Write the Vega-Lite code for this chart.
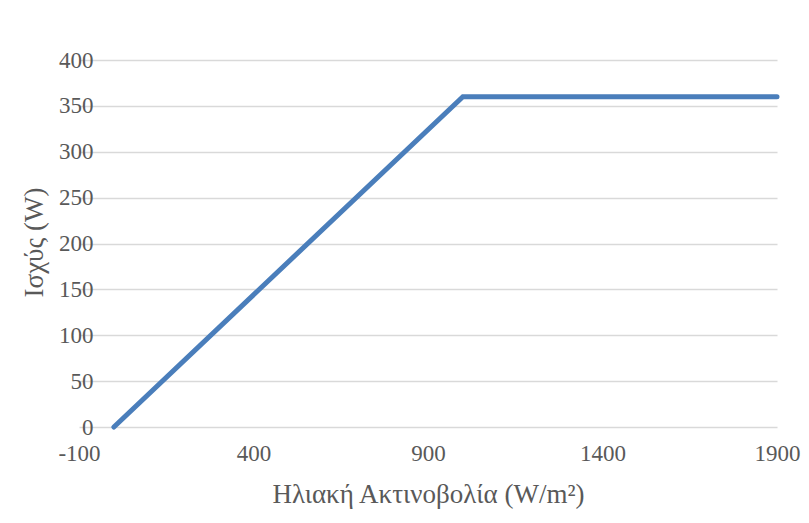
{
  "$schema": "https://vega.github.io/schema/vega-lite/v6.json",
  "autosize": "none",
  "width": 698,
  "height": 367,
  "padding": {"left": 79, "top": 60, "right": 32, "bottom": 96},
  "background": "white",
  "config": {
    "view": {"stroke": null},
    "font": "Liberation Serif",
    "axis": {
      "labelFont": "Liberation Serif",
      "titleFont": "Liberation Serif",
      "labelColor": "#595959",
      "titleColor": "#595959",
      "labelFontSize": 23,
      "titleFontSize": 27,
      "titleFontWeight": "normal",
      "gridColor": "#d9d9d9",
      "gridWidth": 1.3,
      "ticks": false,
      "domain": false
    }
  },
  "data": {
    "values": [
      {"irradiance": 0, "power": 0},
      {"irradiance": 1000, "power": 360},
      {"irradiance": 1900, "power": 360}
    ]
  },
  "mark": {"type": "line", "color": "#4a7ebb", "strokeWidth": 5, "strokeJoin": "miter", "strokeCap": "round"},
  "encoding": {
    "x": {
      "field": "irradiance",
      "type": "quantitative",
      "scale": {"domain": [-100, 1900], "nice": false, "zero": false},
      "axis": {
        "values": [-100, 400, 900, 1400, 1900],
        "labelExpr": "'' + datum.value",
        "grid": false,
        "labelPadding": 15,
        "labelFlush": false,
        "title": "Ηλιακή Ακτινοβολία (W/m²)",
        "titleX": 349,
        "titleY": 75,
        "titleAlign": "center",
        "titleBaseline": "alphabetic"
      }
    },
    "y": {
      "field": "power",
      "type": "quantitative",
      "scale": {"domain": [0, 400], "nice": false},
      "axis": {
        "values": [0, 50, 100, 150, 200, 250, 300, 350, 400],
        "labelExpr": "'' + datum.value",
        "grid": true,
        "labelPadding": -14,
        "title": "Ισχύς (W)",
        "titleAngle": -90,
        "titleX": -45,
        "titleY": 182,
        "titleAlign": "center",
        "titleBaseline": "middle"
      }
    }
  }
}
